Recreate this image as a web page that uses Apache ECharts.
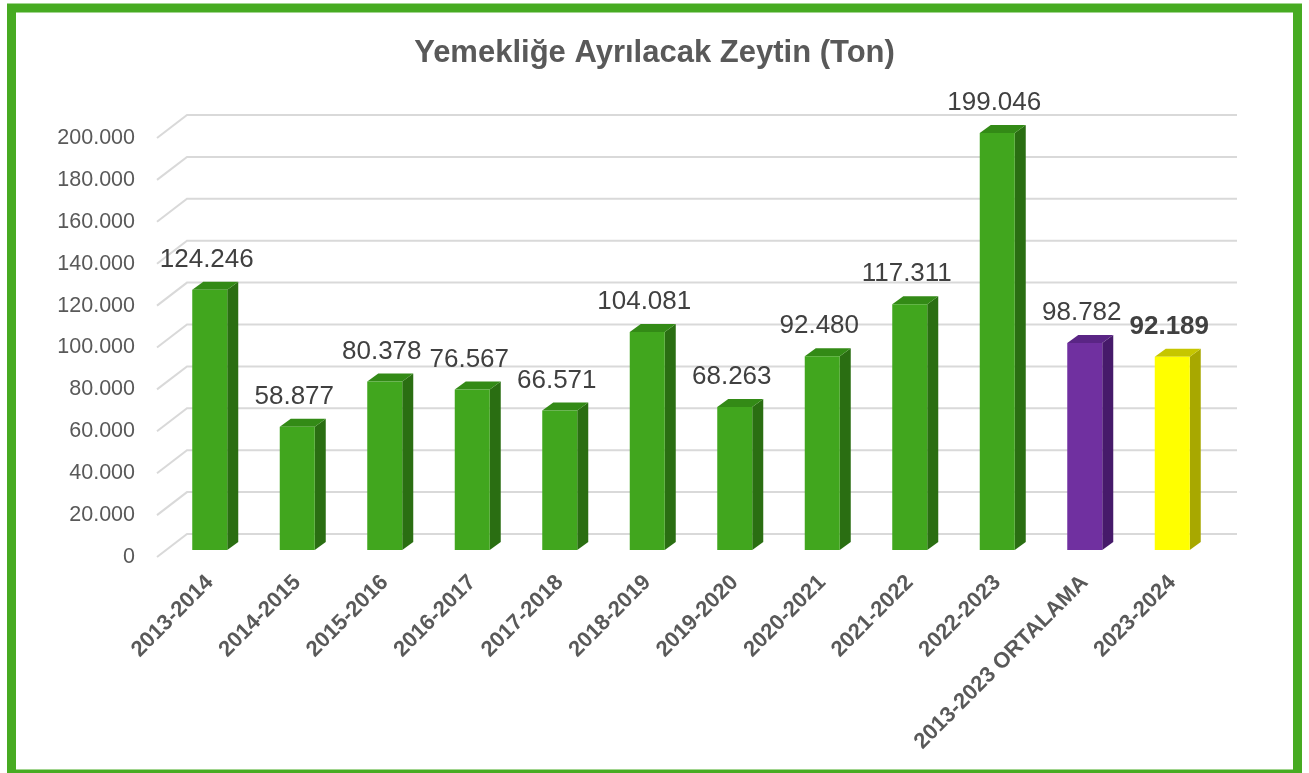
<!DOCTYPE html>
<html>
<head>
<meta charset="utf-8">
<script src="https://cdn.jsdelivr.net/npm/echarts@6/dist/echarts.min.js"></script>
<style>
html,body{margin:0;padding:0;background:#fff;}
#c{width:1309px;height:773px;}
</style>
</head>
<body>
<div id="c"></div>
<script>
const title = 'Yemekliğe Ayrılacak Zeytin (Ton)';
const categories = ['2013-2014','2014-2015','2015-2016','2016-2017','2017-2018','2018-2019','2019-2020','2020-2021','2021-2022','2022-2023','2013-2023 ORTALAMA','2023-2024'];
const values = [124246, 58877, 80378, 76567, 66571, 104081, 68263, 92480, 117311, 199046, 98782, 92189];
const yTicks = [0, 20000, 40000, 60000, 80000, 100000, 120000, 140000, 160000, 180000, 200000];

// styles (kept apart from the data)
const palette = {
  green:  {front:'#41A61E', side:'#2A6E12', top:'#338A16'},
  purple: {front:'#7030A0', side:'#461A6A', top:'#5A2585'},
  yellow: {front:'#FFFF00', side:'#A8A800', top:'#C6C600'}
};
const colorOf = i => i === 10 ? palette.purple : (i === 11 ? palette.yellow : palette.green);
const boldOf = i => i === 11;

function fmt(v){ return Math.round(v).toString().replace(/\B(?=(\d{3})+(?!\d))/g, '.'); }

const FONT = "'Liberation Sans', Arial, sans-serif";
const chart = echarts.init(document.getElementById('c'));

const DX = 11, DY = 8;          // bar depth
const FLOOR_X = 30, FLOOR_Y = 23; // wall depth
const BAR_BACK = 7;              // bar base behind front edge

chart.setOption({
  backgroundColor: '#fff',
  animation: false,
  graphic: [{
    type: 'rect', shape: {x: 11.5, y: 8, width: 1286, height: 766},
    style: {fill: 'none', stroke: '#47AB22', lineWidth: 9}, z: 100
  }],
  title: {
    text: title, left: 'center', top: 33,
    textStyle: {fontFamily: FONT, fontSize: 31, fontWeight: 'bold', color: '#595959'}
  },
  grid: {left: 166, right: 93, top: 138, bottom: 216, containLabel: false},
  xAxis: {
    type: 'category', data: categories,
    axisLine: {show: false}, axisTick: {show: false}, splitLine: {show: false},
    axisLabel: {rotate: 45, margin: 22, interval: 0, fontFamily: FONT, fontSize: 22, fontWeight: 'bold', color: '#595959'}
  },
  yAxis: {
    type: 'value', min: 0, max: 200000, interval: 20000,
    axisLine: {show: false}, axisTick: {show: false}, splitLine: {show: false},
    axisLabel: {margin: 31, fontFamily: FONT, fontSize: 21.5, color: '#595959', formatter: v => fmt(v)}
  },
  series: [
    {
      type: 'custom', silent: true, z: 1,
      data: yTicks.map(v => [0, v]),
      renderItem: function(params, api){
        const cs = params.coordSys;
        const y = api.coord([0, api.value(1)])[1];
        const L = cs.x, R = cs.x + cs.width;
        return {
          type: 'polyline',
          shape: {points: [[L - 9, y], [L - 9 + FLOOR_X, y - FLOOR_Y], [R + 21, y - FLOOR_Y]]},
          style: {stroke: '#D9D9D9', lineWidth: 2, fill: 'none'}
        };
      }
    },
    {
      type: 'custom', z: 2,
      data: values.map((v, i) => [i, v]),
      renderItem: function(params, api){
        const i = api.value(0), v = api.value(1);
        const top = api.coord([i, v]);
        const base = api.coord([i, 0]);
        const w = api.size([1, 0])[0] * 0.4;
        const xl = top[0] - w / 2, xr = top[0] + w / 2;
        const yt = top[1] - BAR_BACK, yb = base[1] - BAR_BACK;
        const c = colorOf(i);
        return {
          type: 'group',
          children: [
            {type: 'polygon', shape: {points: [[xr, yt], [xr + DX, yt - DY], [xr + DX, yb - DY], [xr, yb]]}, style: {fill: c.side}},
            {type: 'polygon', shape: {points: [[xl, yt], [xl + DX, yt - DY], [xr + DX, yt - DY], [xr, yt]]}, style: {fill: c.top}},
            {type: 'rect', shape: {x: xl, y: yt, width: w, height: yb - yt}, style: {fill: c.front}},
            {type: 'text', x: top[0] - 3, y: yt - 30,
             style: {text: fmt(v), fill: '#404040', fontFamily: FONT, fontSize: 26,
                     fontWeight: boldOf(i) ? 'bold' : 'normal', align: 'center', verticalAlign: 'middle'}}
          ]
        };
      }
    }
  ]
});
</script>
</body>
</html>
